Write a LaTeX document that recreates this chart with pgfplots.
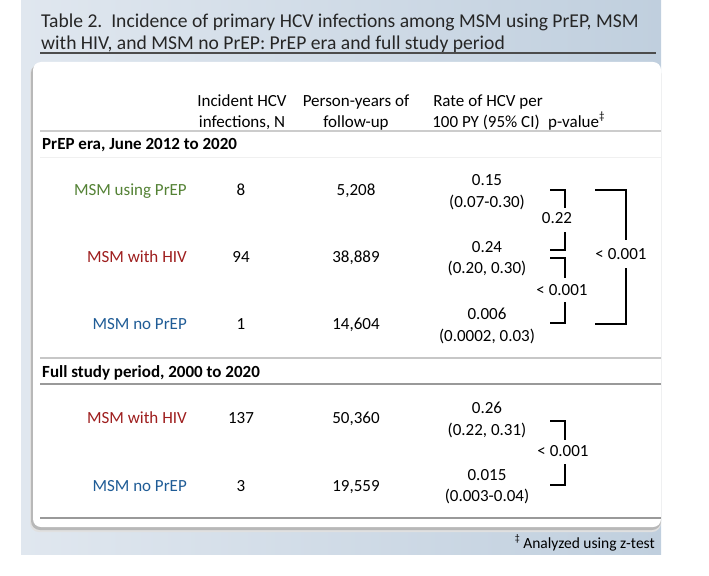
\documentclass[border=0pt]{standalone}
\usepackage{pgfplots}
\pgfplotsset{compat=1.18}
\usepackage{fontspec}
\setmainfont{Carlito}
\definecolor{cgreen}{RGB}{84,130,53}
\definecolor{cred}{RGB}{158,30,30}
\definecolor{cblue}{RGB}{31,92,150}
\definecolor{pleft}{RGB}{224,231,239}
\definecolor{pright}{RGB}{192,207,222}
\definecolor{titlec}{RGB}{38,38,38}
\newcommand\body{\fontsize{17bp}{21bp}\selectfont}
\newcommand\ttl{\fontsize{19.6bp}{22bp}\selectfont}
\newcommand\foot{\fontsize{15.5bp}{18bp}\selectfont}
\begin{document}
\begin{tikzpicture}
\begin{axis}[
  width=709bp, height=576bp, scale only axis,
  xmin=0, xmax=709, ymin=0, ymax=576, y dir=reverse,
  hide axis, clip=false,
]
% page extent
\path (axis cs:0,0) rectangle (axis cs:709,576);
% panel
\shade[left color=pleft, right color=pright] (axis cs:21,0) rectangle (axis cs:661,554);
% title
\node[anchor=base west, text=titlec, font=\ttl, inner sep=0pt] at (axis cs:41,28) {Table 2.\ \ Incidence of primary HCV infections among MSM using PrEP, MSM};
\node[anchor=base west, text=titlec, font=\ttl, inner sep=0pt] at (axis cs:41,50) {with HIV, and MSM no PrEP: PrEP era and full study period};
\draw[line width=1.3bp, black!70] (axis cs:40,53) -- (axis cs:656,53);
% card shadow
\fill[black!12, rounded corners=9bp] (axis cs:30,65) rectangle (axis cs:661,532);
\fill[black!28, rounded corners=9bp] (axis cs:31,64) rectangle (axis cs:661,530);
\fill[white, rounded corners=8bp] (axis cs:33,62) rectangle (axis cs:661,527);
% table rules
\draw[line width=2bp, black!20] (axis cs:40,131) -- (axis cs:661,131);
\draw[line width=1bp, black!6] (axis cs:40,157) -- (axis cs:661,157);
\draw[line width=1.3bp, black!22] (axis cs:40,358) -- (axis cs:661,358);
\draw[line width=1.3bp, black!40] (axis cs:40,384) -- (axis cs:661,384);
\draw[line width=1.3bp, black!40] (axis cs:40,518) -- (axis cs:661,518);
% header
\begin{scope}[every node/.style={font=\body, inner sep=0pt}]
\node[anchor=base] at (axis cs:242,106) {Incident HCV};
\node[anchor=base] at (axis cs:242,127) {infections, N};
\node[anchor=base] at (axis cs:356,106) {Person-years of};
\node[anchor=base] at (axis cs:356,127) {follow-up};
\node[anchor=base] at (axis cs:488,106) {Rate of HCV per};
\node[anchor=base] at (axis cs:486,127) {100 PY (95\% CI)};
\node[anchor=base west] at (axis cs:548,127) {p-value\raisebox{0.45em}{\fontsize{11bp}{11bp}\selectfont ‡}};
\node[anchor=base west, font=\body\bfseries] at (axis cs:42,149.5) {PrEP era, June 2012 to 2020};
\node[anchor=base west, font=\body\bfseries] at (axis cs:42,377.5) {Full study period, 2000 to 2020};
% group labels
\node[anchor=base east, text=cgreen] at (axis cs:187,195.5) {MSM using PrEP};
\node[anchor=base east, text=cred] at (axis cs:187,262.5) {MSM with HIV};
\node[anchor=base east, text=cblue] at (axis cs:187,329.5) {MSM no PrEP};
\node[anchor=base east, text=cred] at (axis cs:187,423.5) {MSM with HIV};
\node[anchor=base east, text=cblue] at (axis cs:187,491.5) {MSM no PrEP};
% p-values
\node[anchor=base] at (axis cs:557,223.5) {0.22};
\node[anchor=base] at (axis cs:562,295.5) {< 0.001};
\node[anchor=base] at (axis cs:563,456.5) {< 0.001};
\node[anchor=base, fill=white, inner sep=1.5bp] at (axis cs:621,259.5) {< 0.001};
\end{scope}
% incident N, person-years, rates
\addplot[draw=none, nodes near coords, point meta=explicit symbolic,
  nodes near coords style={anchor=base, font=\body, inner sep=0pt}] coordinates {
  (241,195.5) [8] (241,262.5) [94] (241,329.5) [1] (241,423.5) [137] (241,491.5) [3]
};
\addplot[draw=none, nodes near coords, point meta=explicit symbolic,
  nodes near coords style={anchor=base, font=\body, inner sep=0pt}] coordinates {
  (356,195.5) [{5,208}] (356,262.5) [{38,889}] (356,329.5) [{14,604}] (356,423.5) [{50,360}] (356,491.5) [{19,559}]
};
\addplot[draw=none, nodes near coords, point meta=explicit symbolic,
  nodes near coords style={anchor=base, font=\body, inner sep=0pt}] coordinates {
  (487,185.5) [0.15] (487,252.5) [0.24] (487,319.5) [0.006] (487,413.5) [0.26] (487,480.5) [0.015]
};
\addplot[draw=none, nodes near coords, point meta=explicit symbolic,
  nodes near coords style={anchor=base, font=\body, inner sep=0pt}] coordinates {
  (487,207.5) [{(0.07-0.30)}] (487,273.5) [{(0.20, 0.30)}] (487,341.5) [{(0.0002, 0.03)}] (487,435.5) [{(0.22, 0.31)}] (487,501.5) [{(0.003-0.04)}]
};
% brackets
\draw[line width=2bp] (axis cs:550,190) -- (axis cs:565,190) -- (axis cs:565,208);
\draw[line width=2bp] (axis cs:565,232) -- (axis cs:565,250) -- (axis cs:550,250);
\draw[line width=2bp] (axis cs:550,258) -- (axis cs:565,258) -- (axis cs:565,278);
\draw[line width=2bp] (axis cs:565,302) -- (axis cs:565,323) -- (axis cs:550,323);
\draw[line width=2bp] (axis cs:595,190) -- (axis cs:626,190) -- (axis cs:626,240);
\draw[line width=2bp] (axis cs:626,268) -- (axis cs:626,324) -- (axis cs:595,324);
\draw[line width=2bp] (axis cs:550,421) -- (axis cs:565,421) -- (axis cs:565,440);
\draw[line width=2bp] (axis cs:565,464) -- (axis cs:565,485) -- (axis cs:550,485);
% footnote
\node[anchor=base east, font=\foot, inner sep=0pt] at (axis cs:655,548) {\raisebox{0.4em}{\fontsize{10bp}{10bp}\selectfont ‡} Analyzed using z-test};
\end{axis}
\end{tikzpicture}
\end{document}
